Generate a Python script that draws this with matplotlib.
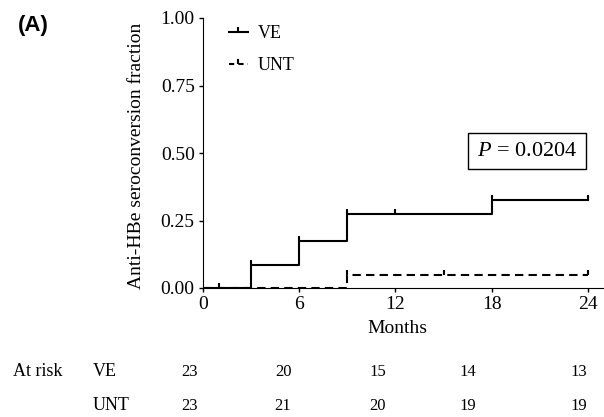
import matplotlib
matplotlib.use("Agg")
import matplotlib.pyplot as plt
import numpy as np
from matplotlib.lines import Line2D

# Kaplan-Meier style step data (cumulative seroconversion)
ve_times = [0, 3, 6, 9, 18, 24]
ve_values = [0.0, 0.087, 0.174, 0.273, 0.325, 0.325]
ve_censor = [1, 3, 6, 9, 12, 18, 24]

unt_times = [0, 9, 24]
unt_values = [0.0, 0.048, 0.048]
unt_censor = [9, 15, 24]

x_ticks = [0, 6, 12, 18, 24]
y_ticks = [0.0, 0.25, 0.5, 0.75, 1.0]

risk_ve = [23, 20, 15, 14, 13]
risk_unt = [23, 21, 20, 19, 19]
risk_xpos = [190, 283, 378, 468, 579]  # pixel centres in the figure

p_text = "$P$ = 0.0204"

plt.rcParams["font.family"] = "Liberation Serif"
plt.rcParams["mathtext.fontset"] = "custom"
plt.rcParams["mathtext.it"] = "Liberation Serif:italic"
plt.rcParams["mathtext.rm"] = "Liberation Serif"

W, H = 604, 417


def step_at(times, values, t):
    i = np.searchsorted(times, t, side="right") - 1
    return values[i]


fig = plt.figure(figsize=(W / 100, H / 100), dpi=100)
ax = fig.add_axes([203 / W, 1 - 288 / H, 401 / W, 270 / H])

ax.step(ve_times, ve_values, where="post", color="k", lw=1.5)
ax.step(unt_times, unt_values, where="post", color="k", lw=1.5,
        linestyle=(0, (4, 2.5)))

ax.plot(ve_censor, [step_at(ve_times, ve_values, t) for t in ve_censor],
        linestyle="none", marker=2, markersize=3.5, mew=1.5, color="k")
ax.plot(unt_censor, [step_at(unt_times, unt_values, t) for t in unt_censor],
        linestyle="none", marker=2, markersize=3.5, mew=1.5, color="k")

ax.set_xlim(0, 25)
ax.set_ylim(0, 1.0)
ax.set_xticks(x_ticks)
ax.set_yticks(y_ticks)
ax.set_yticklabels([f"{v:.2f}" for v in y_ticks])
ax.tick_params(direction="out", length=3, width=1, labelsize=14, pad=3)
ax.spines["top"].set_visible(False)
ax.spines["right"].set_visible(False)
ax.set_xlabel("Months", fontsize=14)
ax.xaxis.set_label_coords(0.486, -0.118)
ax.set_ylabel("Anti-HBe seroconversion fraction", fontsize=14)
ax.yaxis.set_label_coords(-0.145, 0.49)

handles = [
    Line2D([], [], color="k", lw=1.5, marker=2, markersize=3.5, mew=1.5),
    Line2D([], [], color="k", lw=1.5, linestyle=(0, (2.5, 2)), marker=2,
           markersize=3.5, mew=1.5),
]
ax.legend(handles, ["VE", "UNT"], loc="upper left",
          bbox_to_anchor=(26 / 401, (288 - 25) / 270),
          frameon=False, fontsize=13, handlelength=1.05, labelspacing=0.85,
          handletextpad=0.55, borderpad=0, borderaxespad=0)

fig.text(527 / W, 1 - 151 / H, p_text, ha="center", va="center",
         fontsize=16, bbox=dict(boxstyle="square,pad=0.38", fc="white",
                                ec="k", lw=1))

fig.text(18 / W, 1 - 26 / H, "(A)", fontsize=16, fontweight="bold",
         family="Liberation Sans", va="center")

row_ve = 1 - 372 / H
row_unt = 1 - 406 / H
fig.text(13 / W, row_ve, "At risk", fontsize=13, va="center")
fig.text(93 / W, row_ve, "VE", fontsize=13, va="center")
fig.text(93 / W, row_unt, "UNT", fontsize=13, va="center")
for x, a, b in zip(risk_xpos, risk_ve, risk_unt):
    fig.text(x / W, row_ve, str(a), fontsize=12, ha="center", va="center")
    fig.text(x / W, row_unt, str(b), fontsize=12, ha="center", va="center")

fig.savefig("out.png", dpi=100)
